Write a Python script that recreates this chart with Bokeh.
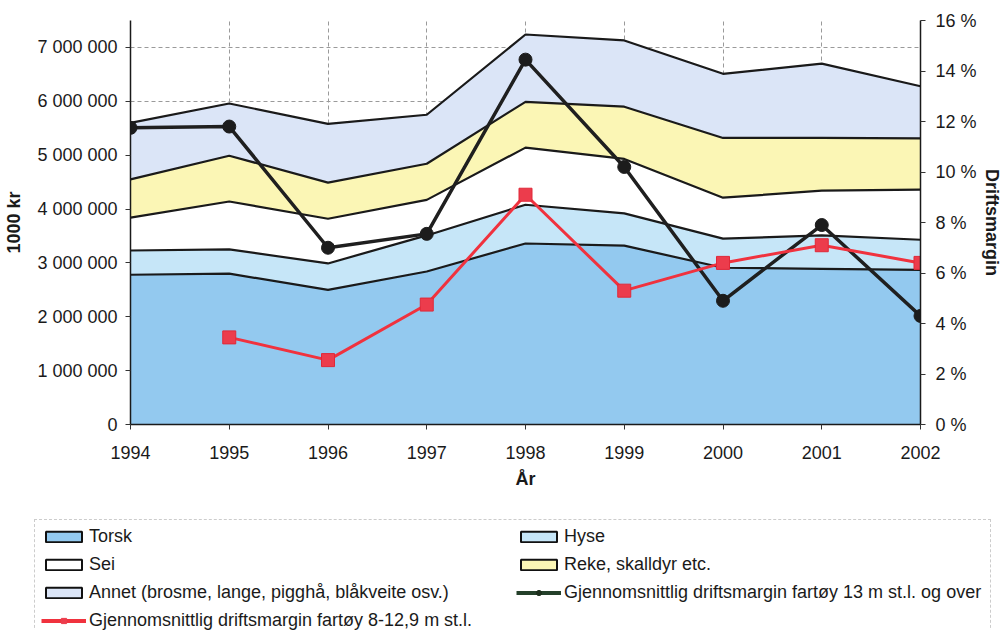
import numpy as np
from bokeh.plotting import figure
from bokeh.models import (ColumnDataSource, Range1d, LinearAxis, FixedTicker,
                          Legend, LegendItem)
from bokeh.embed import file_html
from bokeh.resources import INLINE

# ---------------- data (1000 kr) ----------------
years = [1994, 1995, 1996, 1997, 1998, 1999, 2000, 2001, 2002]
torsk = [2780000, 2800000, 2500000, 2840000, 3360000, 3320000, 2910000, 2890000, 2870000]
hyse = [450000, 450000, 490000, 670000, 720000, 600000, 540000, 620000, 560000]
sei = [610000, 890000, 830000, 660000, 1060000, 1010000, 760000, 830000, 930000]
reke = [710000, 850000, 670000, 670000, 850000, 970000, 1110000, 980000, 950000]
annet = [1050000, 970000, 1090000, 910000, 1250000, 1230000, 1190000, 1380000, 970000]

# driftsmargin (%)
margin_13m = [11.75, 11.8, 7.0, 7.55, 14.45, 10.2, 4.9, 7.9, 4.3]
margin_8_12 = [np.nan, 3.45, 2.55, 4.75, 9.1, 5.3, 6.4, 7.1, 6.4]

series_names = ["Torsk", "Hyse", "Sei", "Reke, skalldyr etc.",
                "Annet (brosme, lange, pigghå, blåkveite osv.)"]
line_13m_label = "Gjennomsnittlig driftsmargin fartøy 13 m st.l. og over"
line_8_12_label = "Gjennomsnittlig driftsmargin fartøy 8-12,9 m st.l."

y_ticks = [0, 1000000, 2000000, 3000000, 4000000, 5000000, 6000000, 7000000]
y_tick_labels = ["0", "1 000 000", "2 000 000", "3 000 000", "4 000 000",
                 "5 000 000", "6 000 000", "7 000 000"]
pct_ticks = [0, 2, 4, 6, 8, 10, 12, 14, 16]
pct_tick_labels = ["0 %", "2 %", "4 %", "6 %", "8 %", "10 %", "12 %", "14 %", "16 %"]

# ---------------- styles ----------------
FONT = "Liberation Sans"
area_colors = ["#93c9ef", "#c6e6f8", "#ffffff", "#fbf6b5", "#dbe5f7"]
stackers = ["torsk", "hyse", "sei", "reke", "annet"]
C13 = "#1f1f1f"
C812_LINE = "#f0323e"
C812_FILL = "#ec3c4c"

W = 1004
H_MAIN = 512
H_LEG = 118

source = ColumnDataSource(dict(year=years, torsk=torsk, hyse=hyse, sei=sei,
                               reke=reke, annet=annet, m13=margin_13m,
                               m812=margin_8_12))

p = figure(width=W, height=H_MAIN, output_backend="svg", toolbar_location=None,
           x_range=Range1d(1994, 2002), y_range=Range1d(0, 7500000),
           min_border_left=130, min_border_right=82, min_border_top=20,
           min_border_bottom=H_MAIN - 424)
p.outline_line_color = None
p.background_fill_color = "white"
p.border_fill_color = "white"

for g in (p.xgrid, p.ygrid):
    g.grid_line_color = "#9a9a9a"
    g.grid_line_dash = "4 3"
    g.grid_line_width = 1

p.xaxis.ticker = FixedTicker(ticks=years)
p.xaxis.axis_label = "År"
p.yaxis.ticker = FixedTicker(ticks=y_ticks)
p.yaxis.major_label_overrides = {t: l for t, l in zip(y_ticks, y_tick_labels)}
p.yaxis.axis_label = "1000 kr"

p.extra_y_ranges = {"pct": Range1d(0, 16)}
raxis = LinearAxis(y_range_name="pct", ticker=FixedTicker(ticks=pct_ticks),
                   major_label_overrides={t: l for t, l in zip(pct_ticks, pct_tick_labels)},
                   axis_label="Driftsmargin")
p.add_layout(raxis, "right")

for ax in (p.xaxis[0], p.yaxis[0], raxis):
    ax.axis_line_color = "#1a1a1a"
    ax.axis_line_width = 1.5
    ax.major_tick_line_color = "#333333"
    ax.major_tick_out = 5
    ax.major_tick_in = 0
    ax.minor_tick_line_color = None
    ax.major_label_text_font = FONT
    ax.major_label_text_font_size = "18px"
    ax.major_label_text_color = "#1a1a1a"
    ax.axis_label_text_font = FONT
    ax.axis_label_text_font_size = "18px"
    ax.axis_label_text_font_style = "bold"
    ax.axis_label_text_color = "#1a1a1a"

p.xaxis.major_label_standoff = 16
p.xaxis.axis_label_standoff = 7
p.yaxis.major_label_standoff = 8
p.yaxis.axis_label_standoff = 10
raxis.major_label_standoff = 10
raxis.axis_label_standoff = 2

# stacked areas and their outlines
p.varea_stack(stackers=stackers, x="year", color=area_colors, source=source)
p.vline_stack(stackers=stackers, x="year", line_color="#1a1a1a", line_width=2.2,
              source=source)

# margin lines on right axis
p.line("year", "m13", y_range_name="pct", source=source,
       line_color=C13, line_width=3.5)
p.scatter("year", "m13", y_range_name="pct", source=source, marker="circle",
          size=13, fill_color="#1c1c1c", line_color="#1c1c1c")
p.line("year", "m812", y_range_name="pct", source=source,
       line_color=C812_LINE, line_width=3)
p.scatter("year", "m812", y_range_name="pct", source=source, marker="square",
          size=13, fill_color=C812_FILL, line_color="#e02838")

# ---------------- legend panel (separate root, frame = whole figure) ----------------
lg = figure(width=W, height=H_LEG, output_backend="svg", toolbar_location=None,
            x_range=Range1d(0, 1), y_range=Range1d(0, 1),
            x_axis_location=None, y_axis_location=None,
            min_border_left=0, min_border_right=0, min_border_top=0,
            min_border_bottom=0)
lg.grid.visible = False
lg.outline_line_color = None
lg.background_fill_color = "white"
lg.border_fill_color = "white"

# legend key glyphs (their data lie outside the visible range)
swatches = []
for c in area_colors:
    q = lg.quad(left=[-3], right=[-2], top=[-2], bottom=[-3], fill_color=c,
                line_color="#111111", line_width=2)
    swatches.append(q)
ll13 = lg.line(x=[-3, -2], y=[-3, -3], line_color="#24402a", line_width=4)
ls13 = lg.scatter(x=[-3], y=[-3], marker="circle", size=11, fill_color="#1c2e1c",
                  line_color="#1c2e1c")
ll812 = lg.line(x=[-3, -2], y=[-3, -3], line_color=C812_LINE, line_width=4)
ls812 = lg.scatter(x=[-3], y=[-3], marker="square", size=11, fill_color=C812_FILL,
                   line_color=C812_FILL)

items = [
    LegendItem(label=series_names[0], renderers=[swatches[0]]),
    LegendItem(label=series_names[1], renderers=[swatches[1]]),
    LegendItem(label=series_names[2], renderers=[swatches[2]]),
    LegendItem(label=series_names[3], renderers=[swatches[3]]),
    LegendItem(label=series_names[4], renderers=[swatches[4]]),
    LegendItem(label=line_13m_label, renderers=[ll13, ls13]),
    LegendItem(label=line_8_12_label, renderers=[ll812, ls812]),
]
legend = Legend(items=items, location=(34, -8), orientation="horizontal",
                ncols=2, glyph_width=45, glyph_height=13, label_standoff=3,
                label_width=420, label_height=19, spacing=7, padding=6,
                margin=0, border_line_color="#9a9a9a", border_line_dash="4 2",
                border_line_width=1, background_fill_color="white",
                background_fill_alpha=1, label_text_font=FONT,
                label_text_font_size="18px", label_text_color="#1a1a1a")
lg.add_layout(legend)

open("out.html", "w").write(file_html([p, lg], INLINE))
